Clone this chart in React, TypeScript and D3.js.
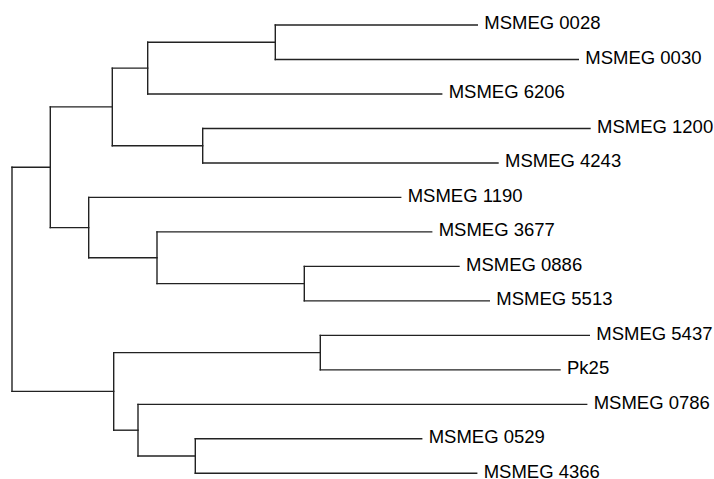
import { useEffect, useRef } from "react"
import * as d3 from "d3"

// tree topology: node id, parent id, branch length
const nodeIds = [
  "root", "U", "B", "C", "D", "MSMEG 0028", "MSMEG 0030", "MSMEG 6206",
  "E", "MSMEG 1200", "MSMEG 4243", "F", "MSMEG 1190", "G", "MSMEG 3677",
  "H", "MSMEG 0886", "MSMEG 5513", "L", "P", "MSMEG 5437", "Pk25",
  "Q", "MSMEG 0786", "R", "MSMEG 0529", "MSMEG 4366",
]
const parentIds = [
  "", "root", "U", "B", "C", "D", "D", "C",
  "B", "E", "E", "U", "F", "F", "G",
  "G", "H", "H", "root", "L", "P", "P",
  "L", "Q", "Q", "R", "R",
]
const branchLengths = [
  0, 0.0383, 0.062, 0.0354, 0.1276, 0.202, 0.303, 0.294,
  0.0904, 0.3873, 0.2953, 0.0384, 0.312, 0.0683, 0.2747,
  0.1473, 0.1547, 0.185, 0.1017, 0.2066, 0.269, 0.2397,
  0.0243, 0.4487, 0.0573, 0.2264, 0.2814,
]

type N = { id: string; parent: string; len: number }

export default function App() {
  const svgRef = useRef<SVGSVGElement>(null)

  useEffect(() => {
    if (!svgRef.current) return
    const svg = d3.select(svgRef.current)
    svg.selectAll("*").remove()

    const rows: N[] = nodeIds.map((id, i) => ({ id, parent: parentIds[i], len: branchLengths[i] }))
    const root = d3
      .stratify<N>()
      .id((d) => d.id)
      .parentId((d) => d.parent || null)(rows)

    // cumulative depth
    const depth = new Map<string, number>()
    root.each((n) => {
      depth.set(n.id!, (n.parent ? depth.get(n.parent.id!)! : 0) + n.data.len)
    })

    const leaves = root.leaves().map((l) => l.id!)
    const maxDepth = d3.max(Array.from(depth.values()))!

    const x = d3.scaleLinear().domain([0, maxDepth]).range([12, 590])
    const y = d3.scalePoint().domain(leaves).range([25, 473.3])

    const ypos = new Map<string, number>()
    root.eachAfter((n) => {
      if (!n.children) ypos.set(n.id!, y(n.id!)!)
      else {
        const ys = n.children.map((c) => ypos.get(c.id!)!)
        ypos.set(n.id!, (d3.min(ys)! + d3.max(ys)!) / 2)
      }
    })

    const g = svg.append("g")

    // horizontal branches
    g.selectAll("line.h")
      .data(root.descendants().filter((n) => n.parent))
      .join("line")
      .attr("class", "h")
      .attr("x1", (n) => x(depth.get(n.parent!.id!)!))
      .attr("x2", (n) => x(depth.get(n.id!)!))
      .attr("y1", (n) => ypos.get(n.id!)!)
      .attr("y2", (n) => ypos.get(n.id!)!)

    // vertical connectors
    g.selectAll("line.v")
      .data(root.descendants().filter((n) => n.children))
      .join("line")
      .attr("class", "v")
      .attr("x1", (n) => x(depth.get(n.id!)!))
      .attr("x2", (n) => x(depth.get(n.id!)!))
      .attr("y1", (n) => d3.min(n.children!, (c) => ypos.get(c.id!)!)!)
      .attr("y2", (n) => d3.max(n.children!, (c) => ypos.get(c.id!)!)!)

    g.selectAll("line")
      .attr("stroke", "#222")
      .attr("stroke-width", 1.4)
      .attr("stroke-linecap", "square")

    // leaf labels, sitting slightly above the branch line
    g.selectAll("text")
      .data(root.leaves())
      .join("text")
      .attr("x", (n) => x(depth.get(n.id!)!) + 7)
      .attr("y", (n) => ypos.get(n.id!)!)
      .attr("dy", "0.23em")
      .attr("font-family", "'Liberation Sans', Arial, sans-serif")
      .attr("font-size", "18.5px")
      .attr("fill", "#000")
      .text((n) => n.id!)
  }, [])

  return (
    <svg
      ref={svgRef}
      width={714}
      height={479}
      style={{ position: "absolute", left: 0, top: 0, background: "#fff" }}
    />
  )
}
